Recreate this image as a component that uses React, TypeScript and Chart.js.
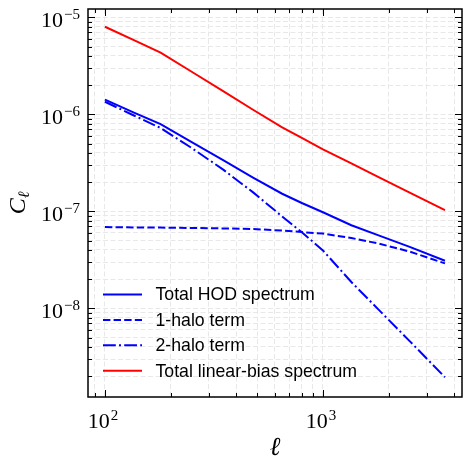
import React, { useEffect, useRef } from "react";
import { Chart, registerables } from "chart.js";

Chart.register(...registerables);

// Multipoles and angular power spectra
const ells = [100, 135, 180, 250, 350, 480, 650, 800, 1000, 1350, 1800, 2500, 3630];
const totalHod = [1.42e-6, 1.05e-6, 7.92e-7, 5.18e-7, 3.35e-7, 2.22e-7, 1.52e-7, 1.22e-7, 9.8e-8, 7.2e-8, 5.65e-8, 4.3e-8, 3.1e-8];
const oneHalo = [6.89e-8, 6.84e-8, 6.8e-8, 6.75e-8, 6.67e-8, 6.57e-8, 6.34e-8, 6.12e-8, 5.9e-8, 5.31e-8, 4.66e-8, 3.85e-8, 2.91e-8];
const twoHalo = [1.35e-6, 9.8e-7, 7.24e-7, 4.5e-7, 2.68e-7, 1.56e-7, 8.86e-8, 6.1e-8, 3.96e-8, 1.87e-8, 9.7e-9, 4.6e-9, 1.95e-9];
const linearBias = [8.0e-6, 5.85e-6, 4.33e-6, 2.75e-6, 1.73e-6, 1.11e-6, 7.36e-7, 5.71e-7, 4.36e-7, 3.12e-7, 2.25e-7, 1.56e-7, 1.03e-7];

const seriesLabels = ["Total HOD spectrum", "1-halo term", "2-halo term", "Total linear-bias spectrum"];
const xDecades = [2, 3];
const yDecades = [-8, -7, -6, -5];

const X_MIN = 83.6;
const X_MAX = 4345;
const Y_MIN = 1.22e-9;
const Y_MAX = 1.22e-5;

const BLUE = "#0000ff";
const RED = "#ff0000";
const DASHED = [7.4, 3.2];
const DASH_DOT = [12.8, 3.2, 2, 3.2];

type Tick = { value: number; major: boolean };

function logTicks(min: number, max: number): Tick[] {
  const out: Tick[] = [];
  const lo = Math.floor(Math.log10(min));
  const hi = Math.ceil(Math.log10(max));
  for (let e = lo; e <= hi; e++) {
    for (let m = 1; m <= 9; m++) {
      const v = m * Math.pow(10, e);
      if (v >= min && v <= max) out.push({ value: v, major: m === 1 });
    }
  }
  return out;
}

const xTicks = logTicks(X_MIN, X_MAX);
const yTicks = logTicks(Y_MIN, Y_MAX);

const points = (ys: number[]) => ells.map((l, i) => ({ x: l, y: ys[i] }));

const SERIF = '"Liberation Serif", "DejaVu Serif", serif';
const SANS = '"Liberation Sans", Arial, sans-serif';

function drawPower(
  ctx: CanvasRenderingContext2D,
  exp: number,
  x: number,
  baseline: number,
  align: "right" | "center"
) {
  const base = "10";
  const sup = exp < 0 ? "\u2212" + Math.abs(exp) : String(exp);
  ctx.font = `22px ${SERIF}`;
  const bw = ctx.measureText(base).width;
  ctx.font = `15px ${SERIF}`;
  const sw = ctx.measureText(sup).width;
  const total = bw + sw + 1;
  const left = align === "right" ? x - total : x - total / 2;
  ctx.textAlign = "left";
  ctx.textBaseline = "alphabetic";
  ctx.font = `22px ${SERIF}`;
  ctx.fillText(base, left, baseline);
  ctx.font = `15px ${SERIF}`;
  ctx.fillText(sup, left + bw + 1, baseline - 8);
}

const axesDecor = {
  id: "axesDecor",
  afterDraw(chart: any) {
    const { ctx, chartArea: a, scales } = chart;
    const xs = scales.x;
    const ys = scales.y;
    ctx.save();

    // inward ticks on all four sides
    ctx.strokeStyle = "#000";
    ctx.lineWidth = 1;
    ctx.setLineDash([]);
    ctx.beginPath();
    for (const t of xTicks) {
      const px = Math.round(xs.getPixelForValue(t.value)) + 0.5;
      const len = t.major ? 7 : 4;
      ctx.moveTo(px, a.bottom);
      ctx.lineTo(px, a.bottom - len);
      ctx.moveTo(px, a.top);
      ctx.lineTo(px, a.top + len);
    }
    for (const t of yTicks) {
      const py = Math.round(ys.getPixelForValue(t.value)) + 0.5;
      const len = t.major ? 7 : 4;
      ctx.moveTo(a.left, py);
      ctx.lineTo(a.left + len, py);
      ctx.moveTo(a.right, py);
      ctx.lineTo(a.right - len, py);
    }
    ctx.stroke();

    // frame
    ctx.lineWidth = 1.5;
    ctx.strokeRect(a.left, a.top, a.right - a.left, a.bottom - a.top);

    // tick labels
    ctx.fillStyle = "#000";
    for (const e of xDecades) {
      const px = xs.getPixelForValue(Math.pow(10, e));
      drawPower(ctx, e, px - 2, a.bottom + 31, "center");
    }
    for (const e of yDecades) {
      const py = ys.getPixelForValue(Math.pow(10, e));
      drawPower(ctx, e, a.left - 8, py + 9.5, "right");
    }

    // axis titles
    ctx.font = `italic 26px ${SERIF}`;
    ctx.textAlign = "center";
    ctx.textBaseline = "alphabetic";
    ctx.fillText("\u2113", (a.left + a.right) / 2, a.bottom + 58);

    ctx.save();
    ctx.translate(25, (a.top + a.bottom) / 2);
    ctx.rotate(-Math.PI / 2);
    ctx.font = `italic 24px ${SERIF}`;
    const cw = ctx.measureText("C").width;
    ctx.font = `italic 16px ${SERIF}`;
    const lw = ctx.measureText("\u2113").width;
    const start = -(cw + lw) / 2;
    ctx.textAlign = "left";
    ctx.font = `italic 24px ${SERIF}`;
    ctx.fillText("C", start, 0);
    ctx.font = `italic 16px ${SERIF}`;
    ctx.fillText("\u2113", start + cw, 4);
    ctx.restore();

    // legend
    const rowY0 = 294.5;
    const rowStep = 25.4;
    const colors = [BLUE, BLUE, BLUE, RED];
    const dashes = [[], DASHED, DASH_DOT, []];
    seriesLabels.forEach((label, i) => {
      const y = rowY0 + i * rowStep;
      ctx.strokeStyle = colors[i];
      ctx.lineWidth = 2;
      ctx.setLineDash(dashes[i]);
      ctx.beginPath();
      ctx.moveTo(a.left + 15, y);
      ctx.lineTo(a.left + 54, y);
      ctx.stroke();
      ctx.setLineDash([]);
      ctx.fillStyle = "#000";
      ctx.font = `17.7px ${SANS}`;
      ctx.textAlign = "left";
      ctx.textBaseline = "middle";
      ctx.fillText(label, a.left + 67.5, y + 1);
    });

    ctx.restore();
  },
};

export default function App() {
  const canvasRef = useRef<HTMLCanvasElement | null>(null);

  useEffect(() => {
    const canvas = canvasRef.current;
    if (!canvas) return;

    const line = (label: string, data: number[], color: string, dash: number[]) => ({
      label,
      data: points(data),
      borderColor: color,
      backgroundColor: color,
      borderWidth: 2,
      borderDash: dash,
      pointRadius: 0,
      tension: 0,
      fill: false,
    });

    const gridOpts = {
      color: "#e8e8e8",
      lineWidth: 1,
      drawTicks: false,
    };

    const chart = new Chart(canvas, {
      type: "line",
      data: {
        datasets: [
          line(seriesLabels[0], totalHod, BLUE, []),
          line(seriesLabels[1], oneHalo, BLUE, DASHED),
          line(seriesLabels[2], twoHalo, BLUE, DASH_DOT),
          line(seriesLabels[3], linearBias, RED, []),
        ],
      },
      options: {
        animation: false,
        responsive: false,
        devicePixelRatio: 1,
        layout: { padding: { left: 88, right: 10, top: 9, bottom: 74 } },
        plugins: {
          legend: { display: false },
          tooltip: { enabled: false },
        },
        scales: {
          x: {
            type: "logarithmic",
            min: X_MIN,
            max: X_MAX,
            afterBuildTicks: (scale: any) => {
              scale.ticks = xTicks.map((t) => ({ ...t }));
            },
            ticks: { display: false },
            grid: gridOpts,
            border: { display: false, dash: [5, 2.5] },
          },
          y: {
            type: "logarithmic",
            min: Y_MIN,
            max: Y_MAX,
            afterBuildTicks: (scale: any) => {
              scale.ticks = yTicks.map((t) => ({ ...t }));
            },
            ticks: { display: false },
            grid: gridOpts,
            border: { display: false, dash: [5, 2.5] },
          },
        },
      },
      plugins: [axesDecor],
    } as any);

    return () => chart.destroy();
  }, []);

  return (
    <div style={{ position: "absolute", left: 0, top: 0, width: 472, height: 471, background: "#fff" }}>
      <canvas ref={canvasRef} width={472} height={471} />
    </div>
  );
}
